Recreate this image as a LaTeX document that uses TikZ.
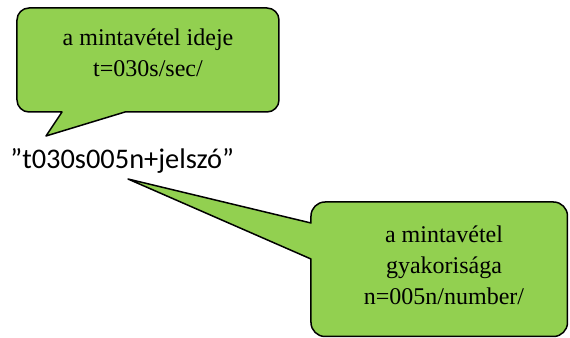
\documentclass[tikz,border=0pt]{standalone}
\usepackage{fontspec}
\setmainfont{Liberation Serif}
\newfontfamily\codefont{Carlito}
\usepackage{tikz}
\usepackage{xcolor}
\usetikzlibrary{positioning}
\definecolor{bubblegreen}{HTML}{92D050}
\tikzstyle{bubble} = [draw=black, fill=bubblegreen, line width=0.75pt, line join=round]

\begin{document}
\begin{tikzpicture}[
        x=0.5pt, y=0.5pt,
        every node/.style={align=center, inner sep=0pt},
        label text/.style={font=\fontsize{12}{15.5}\selectfont}
    ]
        \useasboundingbox (0,0) rectangle (570,338);

        % Tips of the bubbles
        \coordinate (timetip) at (46,202);
        \coordinate (ratetip) at (128,159);

        % Bubbles
        \draw[bubble] (125,226) [rounded corners=6pt] -- (279,226) -- (279,330) -- (17,330) -- (17,226) [sharp corners] -- (62,226) -- (timetip) -- cycle;
        \draw[bubble] (311,115) [rounded corners=7pt] -- (311,136) -- (567.5,136) -- (567.5,1.5) -- (311,1.5) [sharp corners] -- (311,79) -- (ratetip) -- cycle;

        % Texts
        \node[label text] (time) at (148,285) {a mintavétel ideje\\t=030s/sec/};
        \node[label text] (rate) at (444,73) {a mintavétel\\gyakorisága\\n=005n/number/};
        \node[anchor=base west, font=\codefont\fontsize{14.2}{17}\selectfont] (code) at (10,169) {”t030s005n+jelszó”};
    \end{tikzpicture}
\end{document}
